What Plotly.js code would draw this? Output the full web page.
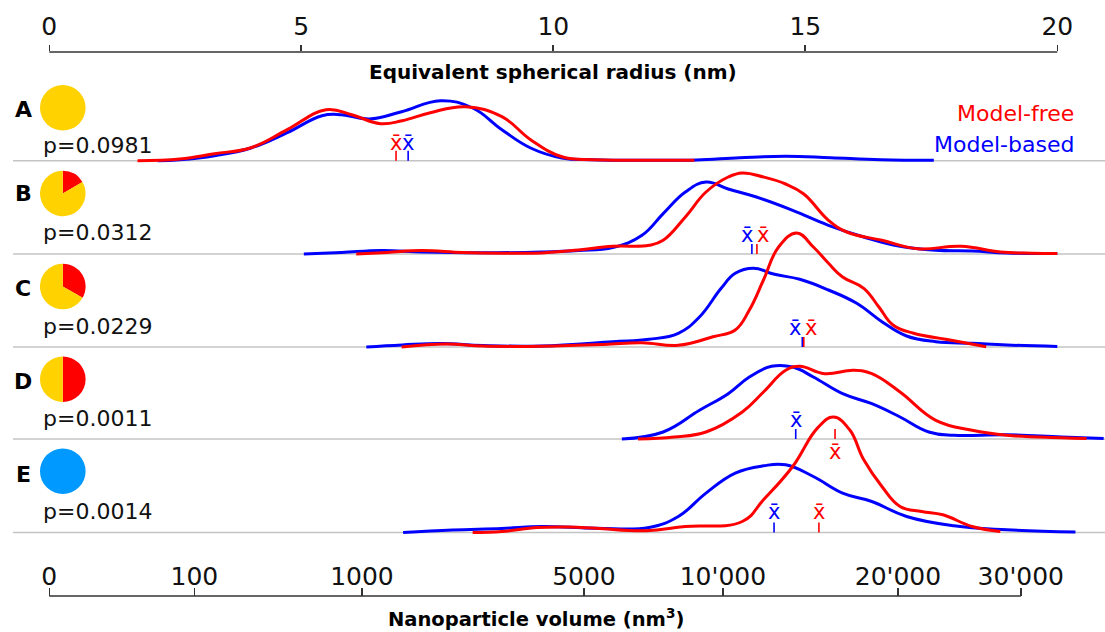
<!DOCTYPE html>
<html><head><meta charset="utf-8">
<script src="https://cdn.plot.ly/plotly-3.0.1.min.js"></script>
<style>html,body{margin:0;padding:0;background:#fff}#chart{width:1105px;height:632px}</style>
</head><body><div id="chart"></div>
<script>
// ---------------- data ----------------
const rowLetters = ['A','B','C','D','E'];
const pTexts = ['p=0.0981','p=0.0312','p=0.0229','p=0.0011','p=0.0014'];
// pie fractions (yellow, red, blue)
const pieYellow = [1, 0.835, 0.667, 0.5, 0];
const pieRed    = [0, 0.165, 0.333, 0.5, 0];
const pieBlue   = [0, 0, 0, 0, 1];

// radius (nm) / density height, Model-free (red) and Model-based (blue)
const A_free_r = [1.75,2.59,3.28,4.0,4.72,5.49,6.0,6.57,7.0,7.56,8.26,8.98,9.55,10.17,10.8,11.5,12.8];
const A_free_h = [0,1.7,7,13,31,51,46,37,40,48,54,44,21,4,1,0.5,0.5];
const A_based_r = [2.15,2.59,3.28,4.0,4.72,5.41,5.8,6.35,6.99,7.76,8.40,8.98,9.55,10.17,10.77,12.0,12.84,13.7,14.61,15.5,16.5,17.55];
const A_based_h = [0,1,5,12.7,28,45,46,41.7,49,60,52.7,31,12.7,2.7,1,0.5,0.8,3,4.5,3,1,0.5];

const B_free_r = [6.09,6.7,7.38,8.2,9.0,9.77,10.5,11.18,11.9,12.18,12.62,13.03,13.47,13.75,14.17,14.61,14.97,15.46,15.82,16.52,17.23,18.09,18.87,19.5,20.0];
const B_free_h = [0,1.5,3.5,1.5,0.8,1,4,7.7,8.7,13.7,37,62,77,81,77,70,60,33.7,22,13.7,5.3,7.7,2,0.8,0.5];
const B_based_r = [5.05,5.8,6.59,7.4,8.5,9.77,10.5,11.18,11.76,12.18,12.62,13.03,13.47,14.03,14.75,15.46,16.16,16.88,17.59,18.31,19.0,20.0];
const B_based_h = [0,1.5,3.5,2,1.2,2,3.5,6.4,18.7,40.4,62,72,65,57,43.7,28.7,17,7.7,3.7,3,1,0.5];

const C_free_r = [6.99,7.88,8.6,9.77,11.0,11.76,12.48,13.17,13.61,13.89,14.17,14.47,14.83,15.16,15.46,15.74,16.16,16.46,16.74,17.15,17.87,18.59];
const C_free_h = [0,3,1,0.8,2.5,4.3,1.7,10.3,17,37,67,100,114,100,83.7,70,58.7,40,22,13.7,7,0.3];
const C_based_r = [6.29,7.0,7.78,8.6,9.77,11.18,11.9,12.48,12.9,13.33,13.61,13.97,14.39,14.89,15.46,16.02,16.52,17.01,17.59,18.31,19.0,20.0];
const C_based_h = [0,2,3.5,1.5,1,5.3,7.7,13.7,30,58.7,73.7,78.7,72.7,67.7,57,43.7,25.3,11,5.3,3.7,2,0.5];

const D_free_r = [11.68,12.4,13.03,13.75,14.17,14.61,14.89,15.38,15.96,16.32,16.88,17.59,18.31,19.0,20.08,20.58];
const D_free_h = [0,2,7,27,47,68.7,72.7,65.3,68.7,65.3,47,18.7,8.7,3.7,1.3,0.5];
const D_based_r = [11.36,12.18,12.9,13.47,13.89,14.33,14.75,15.16,15.74,16.32,16.88,17.45,17.95,19.0,20.08,20.92];
const D_based_h = [0,7,28.7,45.3,62,72.7,72,62,45.3,35.3,22,7,3.7,4.3,2,0.5];

const E_free_r = [8.40,8.98,9.69,10.3,10.85,11.84,12.62,13.75,14.17,14.75,15.24,15.56,15.88,16.16,16.52,16.88,17.31,17.73,18.31,18.87];
const E_free_h = [0,1,5,5.5,4.3,1.7,6,11,32.7,66,104.4,115.4,102.7,72.7,46,26,21,17.7,6,1];
const E_based_r = [7.02,8.0,8.98,9.77,10.85,11.9,12.48,13.03,13.61,14.17,14.61,15.16,15.74,16.32,17.01,17.95,19.0,20.36];
const E_based_h = [0,2.5,4,6,4.3,5,16,39.4,59.4,66.7,67.7,56,39.4,31,16,6.7,2.7,0.5];

// means (nm)
const meanFree  = [6.88, 14.04, 14.97, 15.59, 15.27];
const meanBased = [7.12, 13.94, 14.94, 14.81, 14.38];

// axes
const radiusTicks = [0,5,10,15,20];
const volumeTicks = [0,100,1000,5000,10000,20000,30000];
const volumeLabels = ['0','100','1000','5000',"10'000","20'000","30'000"];

// ---------------- layout helpers ----------------
const W = 1105, H = 632, ML = 13, MR = 0, MT = 52, MB = 36;
const PX0 = 49.3, PXN = 50.4;                 // pixel of r=0, px per nm
const plotH = H - MT - MB;
const xRange = [(ML - PX0) / PXN, (W - MR - PX0) / PXN];
const baselinePx = [160.7, 254, 347, 439, 532.5];
const circlePx = [107.8, 193.5, 286.5, 379.2, 471.2];
const letterPx = [109.5, 194, 288, 381, 474];
const pTextPx = [145.2, 232.5, 326, 418.5, 511.5];
const off = baselinePx.map(p => (H - MB) - p);
const paperX = px => (px - ML) / (W - ML - MR);
const paperY = py => ((H - MB) - py) / plotH;
const vol2r = v => Math.cbrt(3 * v / (4 * Math.PI));

const FONT = 'DejaVu Sans';
const RED = '#ff0000', BLUE = '#0000ff';
const freeR = [A_free_r,B_free_r,C_free_r,D_free_r,E_free_r];
const freeH = [A_free_h,B_free_h,C_free_h,D_free_h,E_free_h];
const basedR = [A_based_r,B_based_r,C_based_r,D_based_r,E_based_r];
const basedH = [A_based_h,B_based_h,C_based_h,D_based_h,E_based_h];

const labelDyFree  = [18, 19.5, 19.5, -13, 21];
const labelDyBased = [18, 19.5, 19.5, 19, 21];
const labelDxFree  = [0, 6, 7, 0, 0];
const labelDxBased = [0, -5, -7, 0, 0];

const traces = [];
const shapes = [];
const annotations = [];

for (let i = 0; i < 5; i++) {
  shapes.push({type:'line', xref:'paper', x0:0, x1:1, yref:'y', y0:off[i], y1:off[i],
    line:{color:'#c4c4c4', width:1.5}, layer:'below'});
  traces.push({type:'scatter', mode:'lines', x:basedR[i], y:basedH[i].map(h => h + off[i]),
    xaxis:'x', yaxis:'y', line:{color:BLUE, width:3, shape:'spline', smoothing:1.2},
    showlegend:false, hoverinfo:'skip', cliponaxis:false});
  traces.push({type:'scatter', mode:'lines', x:freeR[i], y:freeH[i].map(h => h + off[i]),
    xaxis:'x', yaxis:'y', line:{color:RED, width:3, shape:'spline', smoothing:1.2},
    showlegend:false, hoverinfo:'skip', cliponaxis:false});
  // mean ticks
  shapes.push({type:'line', xref:'x', yref:'y', x0:meanBased[i], x1:meanBased[i], y0:off[i], y1:off[i]+10,
    line:{color:BLUE, width:1.6}});
  shapes.push({type:'line', xref:'x', yref:'y', x0:meanFree[i], x1:meanFree[i], y0:off[i], y1:off[i]+10,
    line:{color:RED, width:1.6}});
  annotations.push({xref:'x', yref:'y', x:meanBased[i], y:off[i] + labelDyBased[i], xshift:labelDxBased[i],
    text:'x\u0304', showarrow:false, xanchor:'center', yanchor:'middle',
    font:{family:FONT, size:21, color:BLUE}});
  annotations.push({xref:'x', yref:'y', x:meanFree[i], y:off[i] + labelDyFree[i], xshift:labelDxFree[i],
    text:'x\u0304', showarrow:false, xanchor:'center', yanchor:'middle',
    font:{family:FONT, size:21, color:RED}});
  // row labels
  annotations.push({xref:'paper', yref:'paper', x:paperX(23), y:paperY(letterPx[i]), text:'<b>'+rowLetters[i]+'</b>',
    showarrow:false, xanchor:'center', yanchor:'middle', font:{family:FONT, size:22, color:'#000'}});
  annotations.push({xref:'paper', yref:'paper', x:paperX(40.5), y:paperY(pTextPx[i]), text:pTexts[i],
    showarrow:false, xanchor:'left', yanchor:'middle', font:{family:FONT, size:22, color:'#111'}});
  // pies
  const rad = 22.8, cx = 62.8, cy = circlePx[i];
  traces.push({type:'pie', values:[pieRed[i], pieYellow[i], pieBlue[i]], labels:['red','yellow','blue'],
    marker:{colors:[RED,'#ffd200','#0099ff'], line:{width:0}}, sort:false, direction:'clockwise', rotation:0,
    textinfo:'none', hoverinfo:'skip', showlegend:false,
    domain:{x:[paperX(cx-rad), paperX(cx+rad)], y:[paperY(cy+rad), paperY(cy-rad)]}});
}

// dummy for bottom axis
traces.push({type:'scatter', x:[], y:[], xaxis:'x2', yaxis:'y', showlegend:false, hoverinfo:'skip'});

// axis lines
shapes.push({type:'line', xref:'x', yref:'paper', x0:radiusTicks[0], x1:radiusTicks[radiusTicks.length-1], y0:1, y1:1,
  line:{color:'#333', width:1.6}});
shapes.push({type:'line', xref:'x', yref:'paper', x0:vol2r(volumeTicks[0]), x1:vol2r(volumeTicks[volumeTicks.length-1]), y0:0, y1:0,
  line:{color:'#333', width:1.6}});

// legend & titles
annotations.push({xref:'paper', yref:'paper', x:paperX(1076), y:paperY(113.5), text:'Model-free', showarrow:false,
  xanchor:'right', yanchor:'middle', font:{family:FONT, size:22, color:RED}});
annotations.push({xref:'paper', yref:'paper', x:paperX(1076), y:paperY(144.5), text:'Model-based', showarrow:false,
  xanchor:'right', yanchor:'middle', font:{family:FONT, size:22, color:BLUE}});
annotations.push({xref:'paper', yref:'paper', x:paperX(553), y:paperY(72), text:'<b>Equivalent spherical radius (nm)</b>',
  showarrow:false, xanchor:'center', yanchor:'middle', font:{family:FONT, size:20, color:'#000'}});
annotations.push({xref:'paper', yref:'paper', x:paperX(536), y:paperY(618), text:'<b>Nanoparticle volume (nm<sup>3</sup>)</b>',
  showarrow:false, xanchor:'center', yanchor:'middle', font:{family:FONT, size:19.5, color:'#000'}});

const layout = {
  width:W, height:H, margin:{l:ML, r:MR, t:MT, b:MB, pad:0},
  paper_bgcolor:'#fff', plot_bgcolor:'rgba(0,0,0,0)',
  showlegend:false, hovermode:false,
  xaxis:{range:xRange, side:'top', anchor:'y', tickmode:'array', tickvals:radiusTicks,
    ticktext:radiusTicks.map(String), ticks:'outside', ticklen:6, tickwidth:1.6, tickcolor:'#333',
    showline:false, showgrid:false, zeroline:false, tickfont:{family:FONT, size:25, color:'#111'}, fixedrange:true},
  xaxis2:{range:xRange, overlaying:'x', side:'bottom', anchor:'y', tickmode:'array',
    tickvals:volumeTicks.map(vol2r), ticktext:volumeLabels, ticks:'inside', ticklen:8, tickwidth:1.6, tickcolor:'#333',
    ticklabelposition:'inside', showline:false, showgrid:false, zeroline:false,
    tickfont:{family:FONT, size:25, color:'#111'}, fixedrange:true},
  yaxis:{range:[0, plotH], showgrid:false, zeroline:false, showticklabels:false, ticks:'', showline:false, fixedrange:true},
  shapes:shapes, annotations:annotations
};
Plotly.newPlot('chart', traces, layout, {staticPlot:true, displayModeBar:false});
</script>
</body></html>
